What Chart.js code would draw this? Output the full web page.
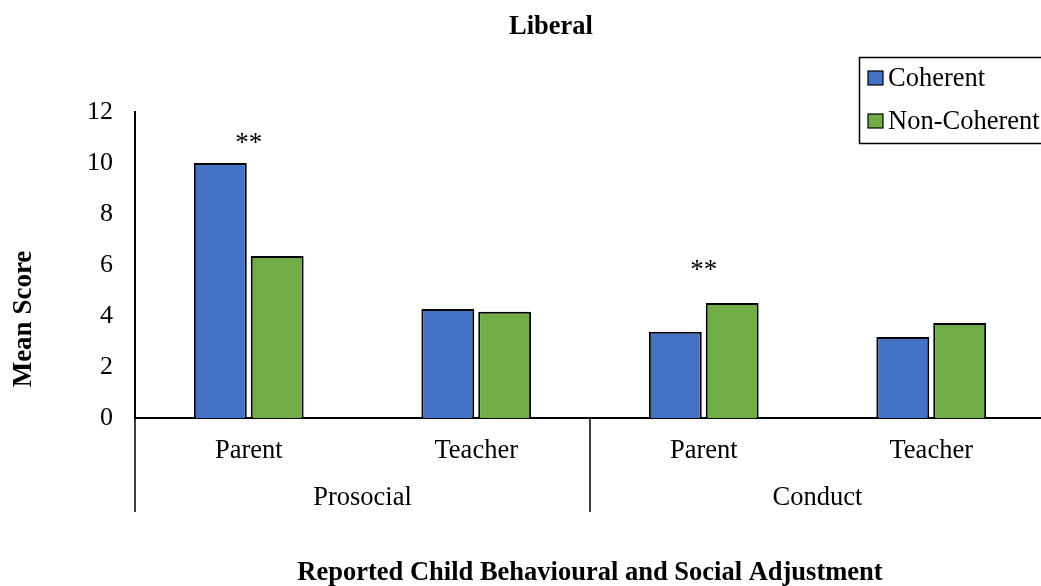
<!DOCTYPE html>
<html>
<head>
<meta charset="utf-8">
<script src="https://cdn.jsdelivr.net/npm/chart.js@4/dist/chart.umd.min.js"></script>
<style>
  html, body { margin: 0; padding: 0; overflow: hidden; background: #fff; }
  #wrap { position: relative; width: 1046px; height: 586px; }
</style>
</head>
<body>
<div id="wrap"><canvas id="c"></canvas></div>
<script>
// Mean scores by informant, grouped by outcome domain
const categories = ['Parent', 'Teacher', 'Parent', 'Teacher'];
const groups = ['Prosocial', 'Conduct'];
const seriesNames = ['Coherent', 'Non-Coherent'];
const coherent = [10.0, 4.27, 3.38, 3.18];
const nonCoherent = [6.35, 4.17, 4.51, 3.73];
const yTicks = [0, 2, 4, 6, 8, 10, 12];
// significance markers and the value level they sit at
const sigMarks = ['**', '', '**', ''];
const sigLevels = [11, null, 6, null];

const chartTitle = 'Liberal';
const yTitle = 'Mean Score';
const xTitle = 'Reported Child Behavioural and Social Adjustment';

const FONT = "'Liberation Serif', 'Times New Roman', serif";
const colors = ['#4472C4', '#70AD47'];

const decorations = {
  id: 'decorations',
  afterDraw(chart) {
    const ctx = chart.ctx;
    const x = chart.scales.x;
    const y = chart.scales.y;
    const area = chart.chartArea;
    ctx.save();

    // group separators below the baseline
    ctx.strokeStyle = '#000';
    ctx.lineWidth = 1.5;
    for (let k = 0; k <= groups.length; k++) {
      const px = Math.round(x.left + x.width * k / groups.length);
      ctx.beginPath();
      ctx.moveTo(px, area.bottom);
      ctx.lineTo(px, x.bottom);
      ctx.stroke();
    }

    // group labels
    ctx.fillStyle = '#000';
    ctx.font = '26.5px ' + FONT;
    ctx.textAlign = 'center';
    ctx.textBaseline = 'middle';
    groups.forEach((g, i) => {
      const cx = x.left + x.width * (i + 0.5) / groups.length;
      ctx.fillText(g, cx, area.bottom + 80);
    });

    // significance markers (asterisks sit high in the em box, so nudge down)
    ctx.font = '27px ' + FONT;
    sigMarks.forEach((m, i) => {
      if (!m) return;
      ctx.fillText(m, x.getPixelForValue(i), y.getPixelForValue(sigLevels[i]) + 6);
    });

    // chart title
    ctx.font = 'bold 26.5px ' + FONT;
    ctx.fillText(chartTitle, 551, 27);

    // x axis title
    ctx.fillText(xTitle, (x.left + x.right) / 2, 573);

    // y axis title
    ctx.save();
    ctx.translate(24, 319);
    ctx.rotate(-Math.PI / 2);
    ctx.font = 'bold 27px ' + FONT;
    ctx.fillText(yTitle, 0, 0);
    ctx.restore();

    // legend
    const lx = 859, ly = 57, lw = 200, lh = 86;
    ctx.strokeStyle = '#000';
    ctx.lineWidth = 1.5;
    ctx.strokeRect(lx + 0.5, ly + 0.5, lw, lh);
    ctx.font = '26.5px ' + FONT;
    ctx.textAlign = 'left';
    seriesNames.forEach((name, i) => {
      const cy = ly + 21 + i * 43;
      ctx.fillStyle = colors[i];
      ctx.fillRect(868, cy - 7, 15, 14);
      ctx.strokeStyle = '#000';
      ctx.lineWidth = 1.2;
      ctx.strokeRect(868, cy - 7, 15, 14);
      ctx.fillStyle = '#000';
      ctx.fillText(name, 888, cy + 1);
    });

    ctx.restore();
  }
};

new Chart(document.getElementById('c'), {
  type: 'bar',
  data: {
    labels: categories,
    datasets: [
      { label: seriesNames[0], data: coherent, backgroundColor: colors[0],
        borderColor: '#000', borderWidth: 2, borderSkipped: 'bottom' },
      { label: seriesNames[1], data: nonCoherent, backgroundColor: colors[1],
        borderColor: '#000', borderWidth: 2, borderSkipped: 'bottom' }
    ]
  },
  options: {
    responsive: true,
    maintainAspectRatio: false,
    animation: false,
    events: [],
    layout: { padding: { top: 112, bottom: 74, left: 0, right: 1 } },
    datasets: { bar: { categoryPercentage: 0.5, barPercentage: 0.93 } },
    plugins: { legend: { display: false }, title: { display: false }, tooltip: { enabled: false } },
    scales: {
      x: {
        grid: { display: false, drawTicks: false },
        border: { display: true, color: '#000', width: 2 },
        ticks: { color: '#000', font: { family: FONT, size: 26.5 }, padding: 17, maxRotation: 0 },
        afterFit(scale) { scale.height = 94; }
      },
      y: {
        min: 0, max: 12,
        afterBuildTicks(scale) { scale.ticks = yTicks.map(v => ({ value: v })); },
        grid: { display: false, drawTicks: false },
        border: { display: true, color: '#000', width: 2 },
        ticks: { color: '#000', font: { family: FONT, size: 26 }, padding: 22 },
        afterFit(scale) { scale.width = 135; }
      }
    }
  },
  plugins: [decorations]
});
</script>
</body>
</html>
